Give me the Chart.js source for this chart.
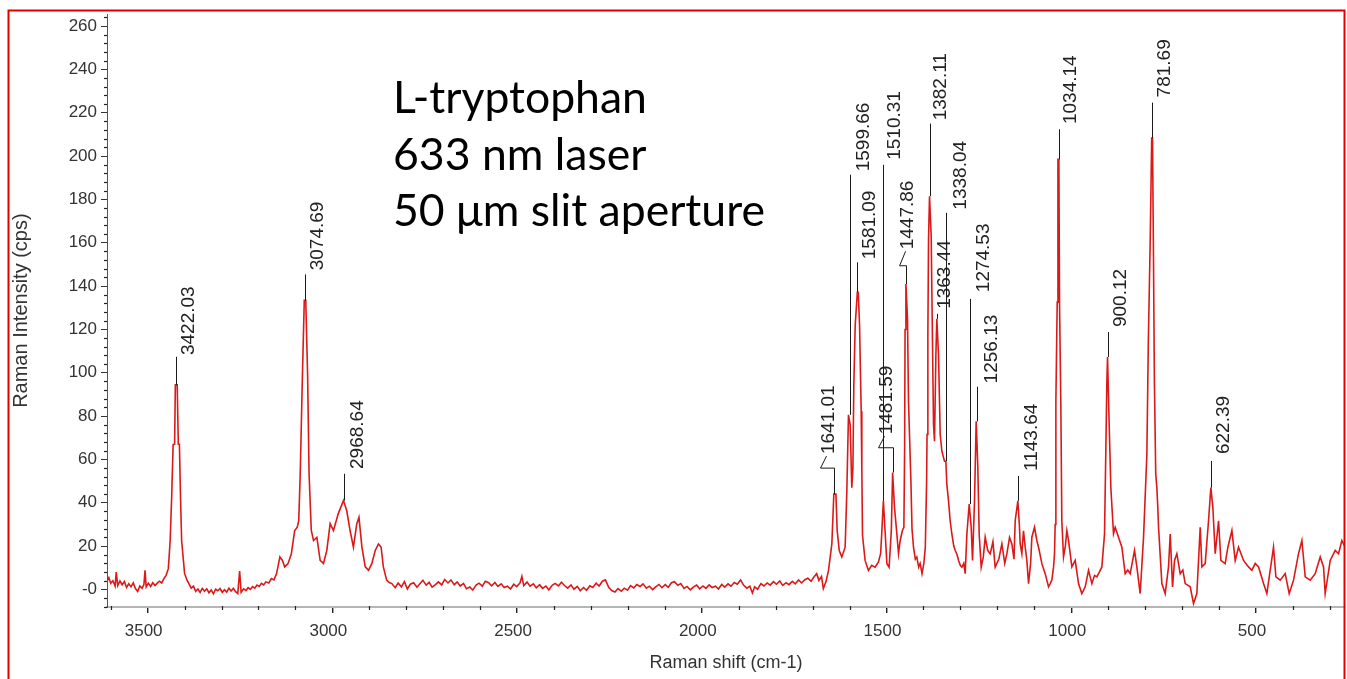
<!DOCTYPE html>
<html><head><meta charset="utf-8">
<script src="https://cdn.jsdelivr.net/npm/chart.js@4.4.1/dist/chart.umd.min.js"></script>
<style>html,body{margin:0;padding:0;background:#fff;overflow:hidden}canvas{display:block}</style>
</head><body>
<canvas id="c" width="1347" height="679"></canvas>
<script>
// ---- Spectrum (Raman shift in cm-1, intensity in cps) ----
const ramanShift = [
3611,3605,3600,3594,3588,3585,3581,3575,3569,3563,3557,3551,3545,3539,3533,3527,3521,3515,3510,3507,3504,3498,3492,3486,3480,3474,3468,3462,3456,3450,3444,
3439,3435,3431,3427,3425,3420,3417,3414,3411,3408,3400,3394,3389,3382,3376,3370,3364,3358,3352,3346,3340,3334,3328,3322,3316,3310,3304,3298,3292,3286,3280,3274,3268,3262,3256,3251,3247,3240,3234,3228,3222,3216,3210,3204,3198,3192,3186,3180,3172,3165,3158,3151,
3142,3135,3129,3120,3111,3102,3095,3091,3087,3081,3076,3072,3067,3063,3057,3051,3042,3033,3024,3015,3006,2997,2984,2970,2961,2952,2943,2934,2928,2920,2911,2902,2893,2884,2875,2868,2862,2853,2846,
2839,2830,2822,2813,2805,2797,2789,2780,2771,2763,2755,2746,2738,2730,2721,2713,2704,2696,2687,2679,2670,2662,2654,2645,2637,2628,2620,2611,2603,2594,2586,2577,2569,2560,2552,2543,2535,2526,2518,2509,2501,2492,2487,2482,2473,2465,2456,2448,2439,2431,2422,2414,2405,2397,2388,2380,2371,2363,2354,2346,2337,2329,2320,2312,2303,2295,2286,2278,2269,2261,2252,2244,2235,2227,2218,2210,2201,2193,2184,2176,2167,2159,2150,2142,2133,2125,2116,2108,2099,2091,2082,2074,2065,2057,2048,2040,2031,2023,2014,2006,1997,1989,1980,1972,1963,1955,1946,1938,1929,1921,1912,1904,1895,1887,1878,1870,1863,1857,1849,1840,1832,1823,1815,1806,1798,1789,1781,1772,1764,1755,1747,1738,1730,1721,1713,1704,1696,1689,1683,1676,1671,1664,1657,
1648,1642.6,1637,1633.6,1628,1621,1612,1607.4,1603,1598.4,1594,1591,1588.5,1584.8,1579,1576.5,1573,1568.6,1566.8,1565,1558,1549,1540,1531,1522,1516,1513,1508.5,1504,1499,1493,1487,1483.5,1478.4,1472,1467.6,1463,1457,1453,1451,1449.8,1447.5,1443.2,1440.5,1437.8,1434,1431,1427,1422,1418,1413,1409,1404,1399,1395,1391.5,1390.3,1388.1,1386.3,1383.6,1379.1,1375.5,1372.8,1370.1,1366.4,1363.8,1359.2,1354.7,1350.2,1343,1339.4,1336.7,1332.2,1327.7,1323.2,1318,1314,1309,1305,1300,1296,1291,1287,1282.5,1276.2,1270.8,1267.2,1261.8,1257.3,1252.8,1249.2,1243.7,1238,1232.9,1226,1219.4,1212,1205.9,1196,1187.8,1180,1174.3,1167,1160.7,1155,1151.7,1144.5,1140.5,1138.2,1133.7,1129.2,1124.7,1120.1,1115.6,1110,1106.6,1099.4,1093.1,1088.5,1079.5,1070.5,1061.5,1057,1052.5,1047.9,1045.3,1043.5,1041.6,1038,1036,1033.5,1031.7,1028.2,1025.5,1020.9,1016,1011.9,1007.4,998.3,989.3,980.3,971.3,962.2,953.2,944.2,937,930.7,924,917.1,909.9,906.3,903.6,901.8,897.3,892.8,885.6,881,872,863,854,847,840.4,828.7,822.4,813.4,804.3,795.3,791.4,786.6,782.2,780,777.6,774.9,771.3,768.3,765.9,763.7,754.7,745.7,736.7,732.1,725.8,720.4,714.1,705.1,698,691.5,678,669,660,650.9,646.4,637.4,628.4,622.1,616.7,610.3,601.3,595,583.3,576,565.2,556.2,547.2,533.6,520.1,511.1,502,493,479.5,470.5,461.5,452.5,446.1,434.4,420.9,410,398.3,384.8,375.7,366.7,353.2,339.7,326.1,317.1,312.6,299,285.5,276.5,267.5,258.4,250
];
const ramanIntensity = [
3.5,5.5,2.8,4.0,1.5,8.0,1.8,3.9,2.2,3.7,0.9,2.6,1.2,3.0,0.4,-0.9,1.6,0.5,2.4,8.8,1.2,2.9,1.4,3.1,1.8,2.9,3.8,3.0,5.0,6.5,9.6,
22.6,42.4,66.9,67.0,94.4,94.4,67.0,67.0,42.4,22.6,7.4,4.5,2.9,0.6,1.5,-0.9,0.2,-1.4,0.5,-0.8,0.3,-1.5,-0.2,-2.0,0.1,-0.6,0.4,-1.3,-0.1,-1.2,0.6,-0.7,0.5,-1.0,-1.9,8.5,-1.3,0.3,-0.5,0.8,0.0,1.3,0.6,2.0,1.4,2.8,2.1,3.5,3.0,5.0,4.4,7.3,
15.0,13.4,10.4,11.9,16.5,27.2,28.7,31.8,53.2,99.0,133.4,133.4,99.0,53.2,27.2,22.6,24.0,13.4,12.0,18.0,30.4,27.2,35.0,41.0,36.3,27.2,19.5,30.2,33.3,19.5,10.4,8.8,12.0,18.0,21.0,19.5,10.4,4.3,3.2,
2.7,0.8,2.9,1.2,3.6,0.2,2.4,3.1,1.0,2.6,4.2,2.0,3.3,1.1,2.2,3.5,2.1,4.6,3.0,4.4,2.2,3.5,1.6,2.8,0.3,1.1,-0.3,2.0,2.9,1.5,3.8,3.1,1.7,3.2,1.4,2.6,0.9,1.5,0.2,2.4,1.3,3.0,6.0,1.8,3.4,1.5,2.6,0.8,2.2,0.5,1.6,-0.2,1.9,2.8,1.6,3.3,1.7,0.6,2.1,0.1,1.4,-0.6,0.9,-0.4,1.7,0.9,2.9,1.6,3.8,4.4,1.0,-0.5,-1.2,0.4,-0.8,0.6,-0.3,1.8,0.7,2.3,1.4,2.6,0.6,1.5,-0.1,1.2,2.3,0.8,2.2,1.0,3.1,3.6,1.9,2.7,0.5,1.4,-0.2,1.1,2.0,0.3,1.6,0.5,2.1,0.9,1.5,0.2,2.3,1.1,2.6,1.5,3.2,2.4,4.4,2.0,0.6,1.5,-1.6,1.2,0.1,2.7,1.6,3.0,2.0,3.6,2.4,3.9,1.9,3.1,2.2,3.7,2.6,4.4,3.0,4.5,5.2,3.8,5.9,7.3,4.2,6.0,0.4,3.5,8.8,
21,44,44,27.2,18,15,19.5,45.5,80.6,76,47,56,94.4,121.9,137.2,137.2,121.9,82.2,55,25,13.4,8.8,11.1,10.3,12.6,16.5,25.6,40.9,27.2,11.9,10.3,27.2,54,37.9,25.6,16.5,22.6,27.2,28.7,65,120,141,124.9,86.7,71.5,50,28,19.5,14,15,10.3,12,7.3,12,19.5,50,71.5,117.3,161.6,181.5,163.1,112.7,76,68.4,108.1,124.9,108.1,71.5,63.8,59.2,59.2,48.5,40.9,31.7,25.6,20,18,16,13.4,11,10.3,12,7.3,25.6,39.4,28.7,13.4,40.9,77.6,56.2,25.6,10.3,15,24.1,18,16.4,22,10.3,14,21,12,16.4,24,21,14,31.7,40.9,30,21,16.5,27.1,19.5,13.4,2.7,12,24.1,28.7,22.6,19.5,11.9,7.3,1.2,2.7,4.3,10.3,16.5,30,86.7,132.6,198.5,198.5,131.6,86,31.7,15,20,27.2,22.6,10.4,13.4,2.7,-1.9,1.2,8.8,2.7,6.5,5.8,8,10.4,25.6,65,95.8,107.3,76,46.9,25.7,28.7,24.1,19.5,7.3,9,7.3,18,10.4,-1.9,24.1,62.3,113.7,157.7,208.3,208.3,157.7,95.8,53.4,47,38.7,28.7,2.7,-1.9,10.4,25.6,1.2,13.4,16.5,7.3,9,2.7,1.2,-6.5,-1.9,28.7,10.4,11.9,31.7,47,37.9,16.5,31.7,13.4,11.9,19.5,27.2,13.4,19.5,13.4,10.4,8.8,12,10.4,2.7,-1.9,8.8,19.5,5.8,4.3,7.3,-1.9,4.3,16.5,22.6,5.8,4.3,7.3,15,10.4,-1.9,13.4,18,16.5,22.6,19.5,21
];

// ---- Axes ----
const xTickValues = [500, 1000, 1500, 2000, 2500, 3000, 3500];
const yTickValues = [0, 20, 40, 60, 80, 100, 120, 140, 160, 180, 200, 220, 240, 260];
const xMinorStep = 100;
const yMinorStep = 4;

// ---- Peak annotations (cm-1 / cps) ----
const peakPositions = [3422.03, 3074.69, 2968.64, 1641.01, 1599.66, 1581.09, 1510.31, 1481.59, 1447.86, 1382.11, 1363.44, 1338.04, 1274.53, 1256.13, 1143.64, 1034.14, 900.12, 781.69, 622.39];
const leaderTops   = [107.4, 145.4, 53.4, 56, 191.4, 151, 196, 65.4, 149.4, 215, 127.2, 173.8, 134.1, 93.6, 52.4, 212.4, 118.8, 224.7, 59.3];
const labelTextX   = [3388, 3040, 2932, 1657, 1562, 1545, 1477, 1500, 1443, 1354, 1341, 1300, 1237.5, 1216, 1107.5, 1000.6, 865, 747.5, 587.7];
const labelTextY   = [108.2, 147.3, 55.6, 62.5, 193, 152.4, 198.3, 71.6, 157, 216.5, 129.5, 175.3, 137.2, 95.1, 54.7, 214.8, 121.1, 227.1, 62.5];

const noteLines = ['L-tryptophan', '633 nm laser', '50 \u03BCm slit aperture'];

const points = ramanShift.map((s, i) => ({ x: s, y: ramanIntensity[i] }));
const TICK_FONT = '"Liberation Sans", Arial, sans-serif';

const annotPlugin = {
  id: 'annot',
  afterDatasetsDraw(chart) {
    const { ctx, chartArea: ca, scales: { x, y } } = chart;
    ctx.save();
    // minor ticks
    ctx.strokeStyle = '#222';
    ctx.lineWidth = 1.2;
    for (let v = Math.ceil(x.min / xMinorStep) * xMinorStep; v <= x.max; v += xMinorStep) {
      if (xTickValues.includes(v)) continue;
      const px = Math.round(x.getPixelForValue(v)) + 0.5;
      ctx.beginPath(); ctx.moveTo(px, ca.bottom - 1); ctx.lineTo(px, ca.bottom + 3); ctx.stroke();
    }
    for (let v = Math.ceil(y.min / yMinorStep) * yMinorStep; v <= y.max; v += yMinorStep) {
      if (yTickValues.includes(v)) continue;
      const py = Math.round(y.getPixelForValue(v)) + 0.5;
      ctx.beginPath(); ctx.moveTo(ca.left - 3, py); ctx.lineTo(ca.left, py); ctx.stroke();
    }
    // peak labels
    ctx.strokeStyle = '#1a1a1a';
    ctx.lineWidth = 1;
    ctx.fillStyle = '#222';
    ctx.font = '19px ' + TICK_FONT;
    peakPositions.forEach((p, i) => {
      let tip = -Infinity;
      ramanShift.forEach((s, j) => { if (Math.abs(s - p) <= 5) tip = Math.max(tip, ramanIntensity[j]); });
      const px = Math.round(x.getPixelForValue(p)) + 0.5;
      const yTip = y.getPixelForValue(tip);
      const yTop = y.getPixelForValue(leaderTops[i]);
      const tx = x.getPixelForValue(labelTextX[i]);
      const ty = y.getPixelForValue(labelTextY[i]);
      ctx.beginPath();
      ctx.moveTo(px, yTip);
      ctx.lineTo(px, yTop);
      if (tx - px < 5) {
        const sx = tx - 8;
        ctx.lineTo(sx, yTop);
        ctx.lineTo(sx + 6, ty + 2);
      }
      ctx.stroke();
      ctx.save();
      ctx.translate(tx, ty);
      ctx.rotate(-Math.PI / 2);
      ctx.textAlign = 'left';
      ctx.textBaseline = 'middle';
      ctx.fillText(p.toFixed(2), 0, 0);
      ctx.restore();
    });
    ctx.restore();
  },
  afterDraw(chart) {
    const { ctx } = chart;
    ctx.save();
    // note text
    ctx.fillStyle = '#000';
    ctx.font = '40px Lato, "Open Sans", sans-serif';
    const w = ctx.measureText(noteLines[0]).width;
    const size = 40 * 254 / w;
    ctx.font = size.toFixed(2) + 'px Lato, "Open Sans", sans-serif';
    ctx.textAlign = 'left';
    ctx.textBaseline = 'alphabetic';
    const baselines = [113, 170, 226];
    noteLines.forEach((t, i) => ctx.fillText(t, 393, baselines[i]));
    // red frame
    ctx.strokeStyle = '#e00000';
    ctx.lineWidth = 2;
    ctx.strokeRect(8.5, 10.5, 1336, 720);
    ctx.restore();
  }
};

new Chart(document.getElementById('c'), {
  type: 'line',
  data: {
    datasets: [{
      data: points,
      borderColor: '#dc1818',
      borderWidth: 1.6,
      pointRadius: 0,
      tension: 0,
      fill: false
    }]
  },
  options: {
    responsive: false,
    animation: false,
    events: [],
    layout: { padding: { top: 10, right: 2, left: 0, bottom: 0 } },
    plugins: { legend: { display: false }, tooltip: { enabled: false } },
    scales: {
      x: {
        type: 'linear',
        reverse: true,
        min: 259,
        max: 3610,
        afterBuildTicks: s => { s.ticks = xTickValues.map(v => ({ value: v })); },
        afterFit: s => { s.height = 72; },
        ticks: { font: { size: 17, family: TICK_FONT }, color: '#333', padding: 8, maxRotation: 0, autoSkip: false, labelOffset: -4, callback: v => String(v) },
        grid: { drawOnChartArea: false, drawTicks: true, tickLength: 6, color: '#222', lineWidth: 1.4 },
        border: { display: true, color: '#b5b5b5', width: 2 },
        title: { display: true, text: 'Raman shift (cm-1)', color: '#333', font: { size: 18, family: TICK_FONT }, padding: { top: 0, bottom: 5 } }
      },
      y: {
        min: -8.1,
        max: 265.5,
        afterBuildTicks: s => { s.ticks = yTickValues.map(v => ({ value: v })); },
        afterFit: s => { s.width = 107; },
        ticks: { font: { size: 17, family: TICK_FONT }, color: '#333', padding: 4, autoSkip: false, callback: v => (v === 0 ? '-0' : String(v)) },
        grid: { drawOnChartArea: false, drawTicks: true, tickLength: 6, color: '#333', lineWidth: 1 },
        border: { display: true, color: '#555', width: 1 },
        title: { display: true, text: 'Raman Intensity (cps)', color: '#333', font: { size: 20, family: TICK_FONT }, padding: { top: 9, bottom: 0 } }
      }
    }
  },
  plugins: [annotPlugin]
});
</script>
</body></html>
